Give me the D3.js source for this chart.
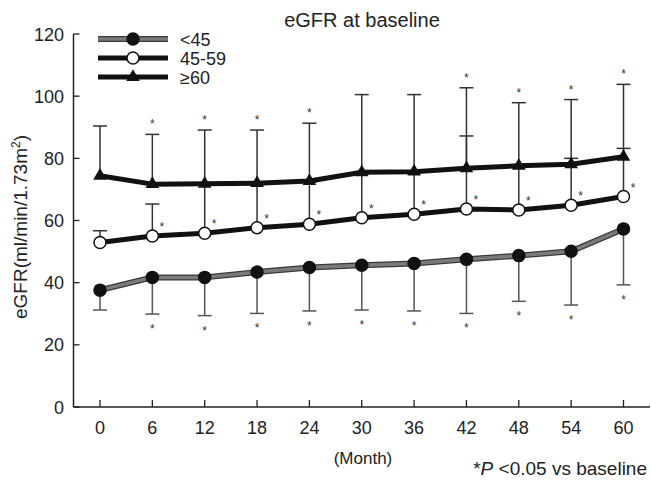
<!DOCTYPE html>
<html>
<head>
<meta charset="utf-8">
<script src="https://cdn.jsdelivr.net/npm/d3@7.9.0/dist/d3.min.js"></script>
<style>
  body { margin: 0; background: #fff; }
  svg { display: block; font-family: "Liberation Sans", Arial, sans-serif; }
</style>
</head>
<body>
<div id="chart"></div>
<script>
// Data
const months = [0, 6, 12, 18, 24, 30, 36, 42, 48, 54, 60];
const yTicks = [0, 20, 40, 60, 80, 100, 120];

const lowMean = [37.6, 41.7, 41.7, 43.4, 44.9, 45.6, 46.2, 47.5, 48.7, 50.1, 57.3];
const lowErr = [31.2, 29.9, 29.4, 30.1, 30.9, 31.2, 30.9, 30.1, 34.0, 32.8, 39.3];
const lowStar = [0, 1, 1, 1, 1, 1, 1, 1, 1, 1, 1];

const midMean = [52.9, 55.0, 55.9, 57.7, 58.8, 60.9, 62.0, 63.7, 63.4, 64.9, 67.7];
const midErr = [56.7, 65.3, 71.5, 71.5, 72.3, 75.0, 75.2, 87.2, 77.0, 80.0, 83.2];
const midStar = [0, 1, 1, 1, 1, 1, 1, 1, 1, 1, 1];

const highMean = [74.4, 71.7, 71.8, 72.0, 72.7, 75.5, 75.7, 76.8, 77.6, 78.1, 80.5];
const highErr = [90.4, 87.7, 89.1, 89.1, 91.3, 100.5, 100.5, 102.7, 97.9, 98.9, 103.8];
const highStar = [0, 1, 1, 1, 1, 0, 0, 1, 1, 1, 1];

const legendLabels = ['<45', '45-59', '≥60'];

const width = 651, height = 488;
const svg = d3.select('#chart').append('svg')
  .attr('width', width).attr('height', height);

const x = d3.scaleLinear().domain([0, 60]).range([100, 623.5]);
const y = d3.scaleLinear().domain([0, 120]).range([407, 34]);
const axisLeftX = 73.5, axisRight = 650;

// Axes
svg.append('line')
  .attr('x1', axisLeftX).attr('x2', axisLeftX)
  .attr('y1', y(120)).attr('y2', y(0))
  .attr('stroke', '#222').attr('stroke-width', 1.5);
svg.append('line')
  .attr('x1', axisLeftX).attr('x2', axisRight)
  .attr('y1', y(0)).attr('y2', y(0))
  .attr('stroke', '#222').attr('stroke-width', 1.5);

svg.append('g').selectAll('line').data(yTicks).join('line')
  .attr('x1', axisLeftX).attr('x2', axisLeftX + 6)
  .attr('y1', d => y(d)).attr('y2', d => y(d))
  .attr('stroke', '#222').attr('stroke-width', 1.3);
svg.append('g').selectAll('text').data(yTicks).join('text')
  .attr('x', 64).attr('y', d => y(d) + 6.5)
  .attr('text-anchor', 'end').attr('font-size', 18).attr('fill', '#222')
  .text(d => d);

svg.append('g').selectAll('line').data(months).join('line')
  .attr('x1', d => x(d)).attr('x2', d => x(d))
  .attr('y1', y(0)).attr('y2', y(0) - 7)
  .attr('stroke', '#222').attr('stroke-width', 1.3);
svg.append('g').selectAll('text').data(months).join('text')
  .attr('x', d => x(d)).attr('y', 434)
  .attr('text-anchor', 'middle').attr('font-size', 18).attr('fill', '#222')
  .text(d => d);

// Titles
svg.append('text').attr('x', 362).attr('y', 27)
  .attr('text-anchor', 'middle').attr('font-size', 20).attr('fill', '#222')
  .text('eGFR at baseline');
svg.append('text').attr('x', 363).attr('y', 464)
  .attr('text-anchor', 'middle').attr('font-size', 17).attr('fill', '#222')
  .text('(Month)');
const yl = svg.append('text')
  .attr('transform', 'translate(27,227) rotate(-90)')
  .attr('text-anchor', 'middle').attr('font-size', 19).attr('fill', '#222');
yl.append('tspan').text('eGFR(ml/min/1.73m');
yl.append('tspan').attr('font-size', 12).attr('dy', -7).text('2');
yl.append('tspan').attr('dy', 7).text(')');

const note = svg.append('text').attr('x', 647).attr('y', 475)
  .attr('text-anchor', 'end').attr('font-size', 19).attr('fill', '#222');
note.append('tspan').text('*');
note.append('tspan').attr('font-style', 'italic').text('P');
note.append('tspan').text(' <0.05 vs baseline');

// Error bars
function errorBars(means, ends, color) {
  const g = svg.append('g').attr('stroke', color).attr('stroke-width', 1.5);
  months.forEach((m, i) => {
    g.append('line')
      .attr('x1', x(m)).attr('x2', x(m))
      .attr('y1', y(means[i])).attr('y2', y(ends[i]));
    g.append('line')
      .attr('x1', x(m) - 7).attr('x2', x(m) + 7)
      .attr('y1', y(ends[i])).attr('y2', y(ends[i]));
  });
}
errorBars(lowMean, lowErr, '#555');
errorBars(midMean, midErr, '#333');
errorBars(highMean, highErr, '#333');

// Stars
function stars(flags, px, py) {
  svg.append('g').selectAll('text')
    .data(months.filter((m, i) => flags[i]).map(m => months.indexOf(m)))
    .join('text')
    .attr('x', i => px(i)).attr('y', i => py(i) + 7)
    .attr('text-anchor', 'middle').attr('font-size', 12).attr('fill', '#333')
    .text('*');
}
stars(highStar, i => x(months[i]), i => y(highErr[i]) - 13);
stars(midStar, i => x(months[i]) + 9.5, i => y(midMean[i]) - 12);
stars(lowStar, i => x(months[i]), i => y(lowErr[i]) + 12);

// Lines
const line = d3.line().x((d, i) => x(months[i])).y(d => y(d));
function drawLine(vals, grey) {
  if (grey) {
    svg.append('path').attr('d', line(vals)).attr('fill', 'none')
      .attr('stroke', '#3a3a3a').attr('stroke-width', 6).attr('stroke-linejoin', 'round');
    svg.append('path').attr('d', line(vals)).attr('fill', 'none')
      .attr('stroke', '#7a7a7a').attr('stroke-width', 3.5).attr('stroke-linejoin', 'round');
  } else {
    svg.append('path').attr('d', line(vals)).attr('fill', 'none')
      .attr('stroke', '#111').attr('stroke-width', 5).attr('stroke-linejoin', 'round');
  }
}
drawLine(lowMean, true);
drawLine(midMean, false);
drawLine(highMean, false);

// Markers
const tri = d3.symbol().type(d3.symbolTriangle).size(80);
function markers(vals, kind) {
  const g = svg.append('g');
  vals.forEach((v, i) => drawMarker(g, x(months[i]), y(v), kind));
}
function drawMarker(g, cx, cy, kind) {
  if (kind === 'tri') {
    g.append('path').attr('d', tri()).attr('transform', `translate(${cx},${cy})`)
      .attr('fill', '#111');
  } else {
    g.append('circle').attr('cx', cx).attr('cy', cy).attr('r', 6)
      .attr('fill', kind === 'open' ? '#fff' : '#111')
      .attr('stroke', '#111').attr('stroke-width', 1.5);
  }
}
markers(lowMean, 'filled');
markers(midMean, 'open');
markers(highMean, 'tri');

// Legend
const legendY = [39, 58, 77];
const kinds = ['filled', 'open', 'tri'];
const lg = svg.append('g');
legendLabels.forEach((lab, i) => {
  const yy = legendY[i];
  if (i === 0) {
    lg.append('line').attr('x1', 98).attr('x2', 168).attr('y1', yy).attr('y2', yy)
      .attr('stroke', '#3a3a3a').attr('stroke-width', 6);
    lg.append('line').attr('x1', 98).attr('x2', 168).attr('y1', yy).attr('y2', yy)
      .attr('stroke', '#7a7a7a').attr('stroke-width', 3.5);
  } else {
    lg.append('line').attr('x1', 98).attr('x2', 168).attr('y1', yy).attr('y2', yy)
      .attr('stroke', '#111').attr('stroke-width', 5);
  }
  drawMarker(lg, 133, yy, kinds[i]);
  lg.append('text').attr('x', 180).attr('y', yy + 6.5)
    .attr('font-size', 18).attr('fill', '#222').text(lab);
});
</script>
</body>
</html>
